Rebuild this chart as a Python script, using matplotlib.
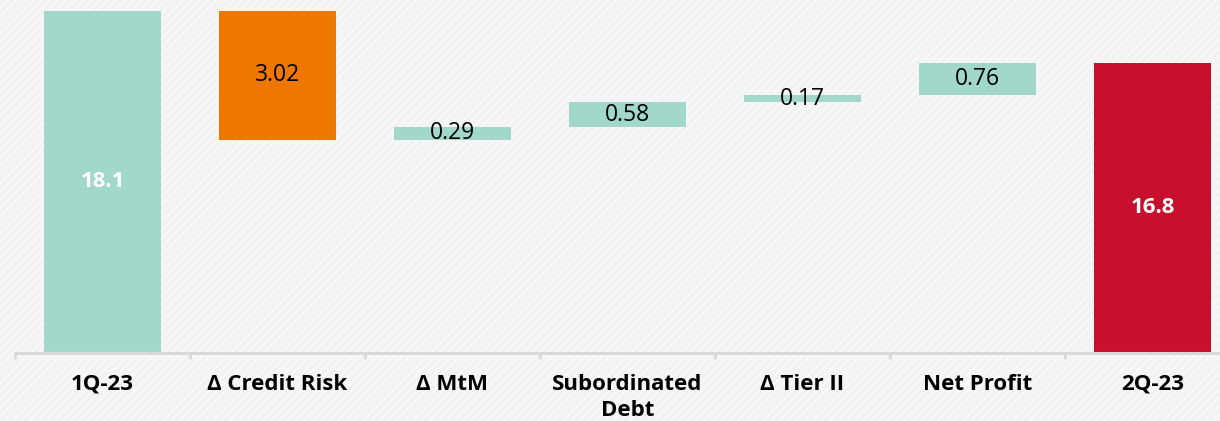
import matplotlib
matplotlib.use("Agg")
import matplotlib.pyplot as plt
from matplotlib.patches import Rectangle

categories = ["1Q-23", "Δ Credit Risk", "Δ MtM", "Subordinated\nDebt", "Δ Tier II", "Net Profit", "2Q-23"]
start_value = 18.02
changes = [-3.02, 0.29, 0.58, 0.17, 0.76]
end_value = 16.8
value_labels = ["18.1", "3.02", "0.29", "0.58", "0.17", "0.76", "16.8"]

TEAL = "#A2D8CA"
ORANGE = "#EE7700"
RED = "#C8102E"
AX_GRAY = "#d9d9d9"

plt.rcParams["font.family"] = ["Open Sans", "DejaVu Sans"]
plt.rcParams["hatch.linewidth"] = 1.0

fig = plt.figure(figsize=(12.2, 4.21), dpi=100)
fig.patches.append(Rectangle((0, 0), 1, 1, transform=fig.transFigure,
                             facecolor="#f3f3f3", edgecolor="#fbfbfb",
                             hatch="////", lw=0, zorder=-10))

W, H = 1220, 421
ax = fig.add_axes([15 / W, (H - 353) / H, 1225 / W, 353 / H])
ax.set_facecolor("none")

ymin = 10.0
bottoms, heights, colors = [], [], []
bottoms.append(ymin); heights.append(start_value - ymin); colors.append(TEAL)
level = start_value
for c in changes:
    new = level + c
    bottoms.append(min(level, new))
    heights.append(abs(c))
    colors.append(ORANGE if c < 0 else TEAL)
    level = new
bottoms.append(ymin); heights.append(end_value - ymin); colors.append(RED)

x = list(range(len(categories)))
ax.bar(x, heights, bottom=bottoms, width=0.67, color=colors, zorder=2)

for i, (b, h, lab) in enumerate(zip(bottoms, heights, value_labels)):
    if i in (0, len(categories) - 1):
        ax.text(i, b + h / 2, lab, ha="center", va="center", color="white",
                fontsize=16, fontweight="bold", zorder=3)
    else:
        ax.text(i, b + h / 2, lab, ha="center", va="center", color="black",
                fontsize=16.5, zorder=3)

ax.set_xlim(-0.5, len(categories) - 0.5)
ax.set_ylim(ymin, 18.27)
for s in ("top", "right", "left"):
    ax.spines[s].set_visible(False)
ax.spines["bottom"].set_color(AX_GRAY)
ax.spines["bottom"].set_linewidth(2.2)
ax.set_yticks([])
ax.set_xticks(x)
ax.set_xticklabels(categories, fontsize=16, fontweight="bold", linespacing=1.35)
ax.tick_params(axis="x", which="major", length=0, pad=15)
ax.set_xticks([i - 0.5 for i in range(len(categories) + 1)], minor=True)
ax.tick_params(axis="x", which="minor", length=4, width=2, color=AX_GRAY, direction="out")

fig.savefig("out.png", dpi=100)
